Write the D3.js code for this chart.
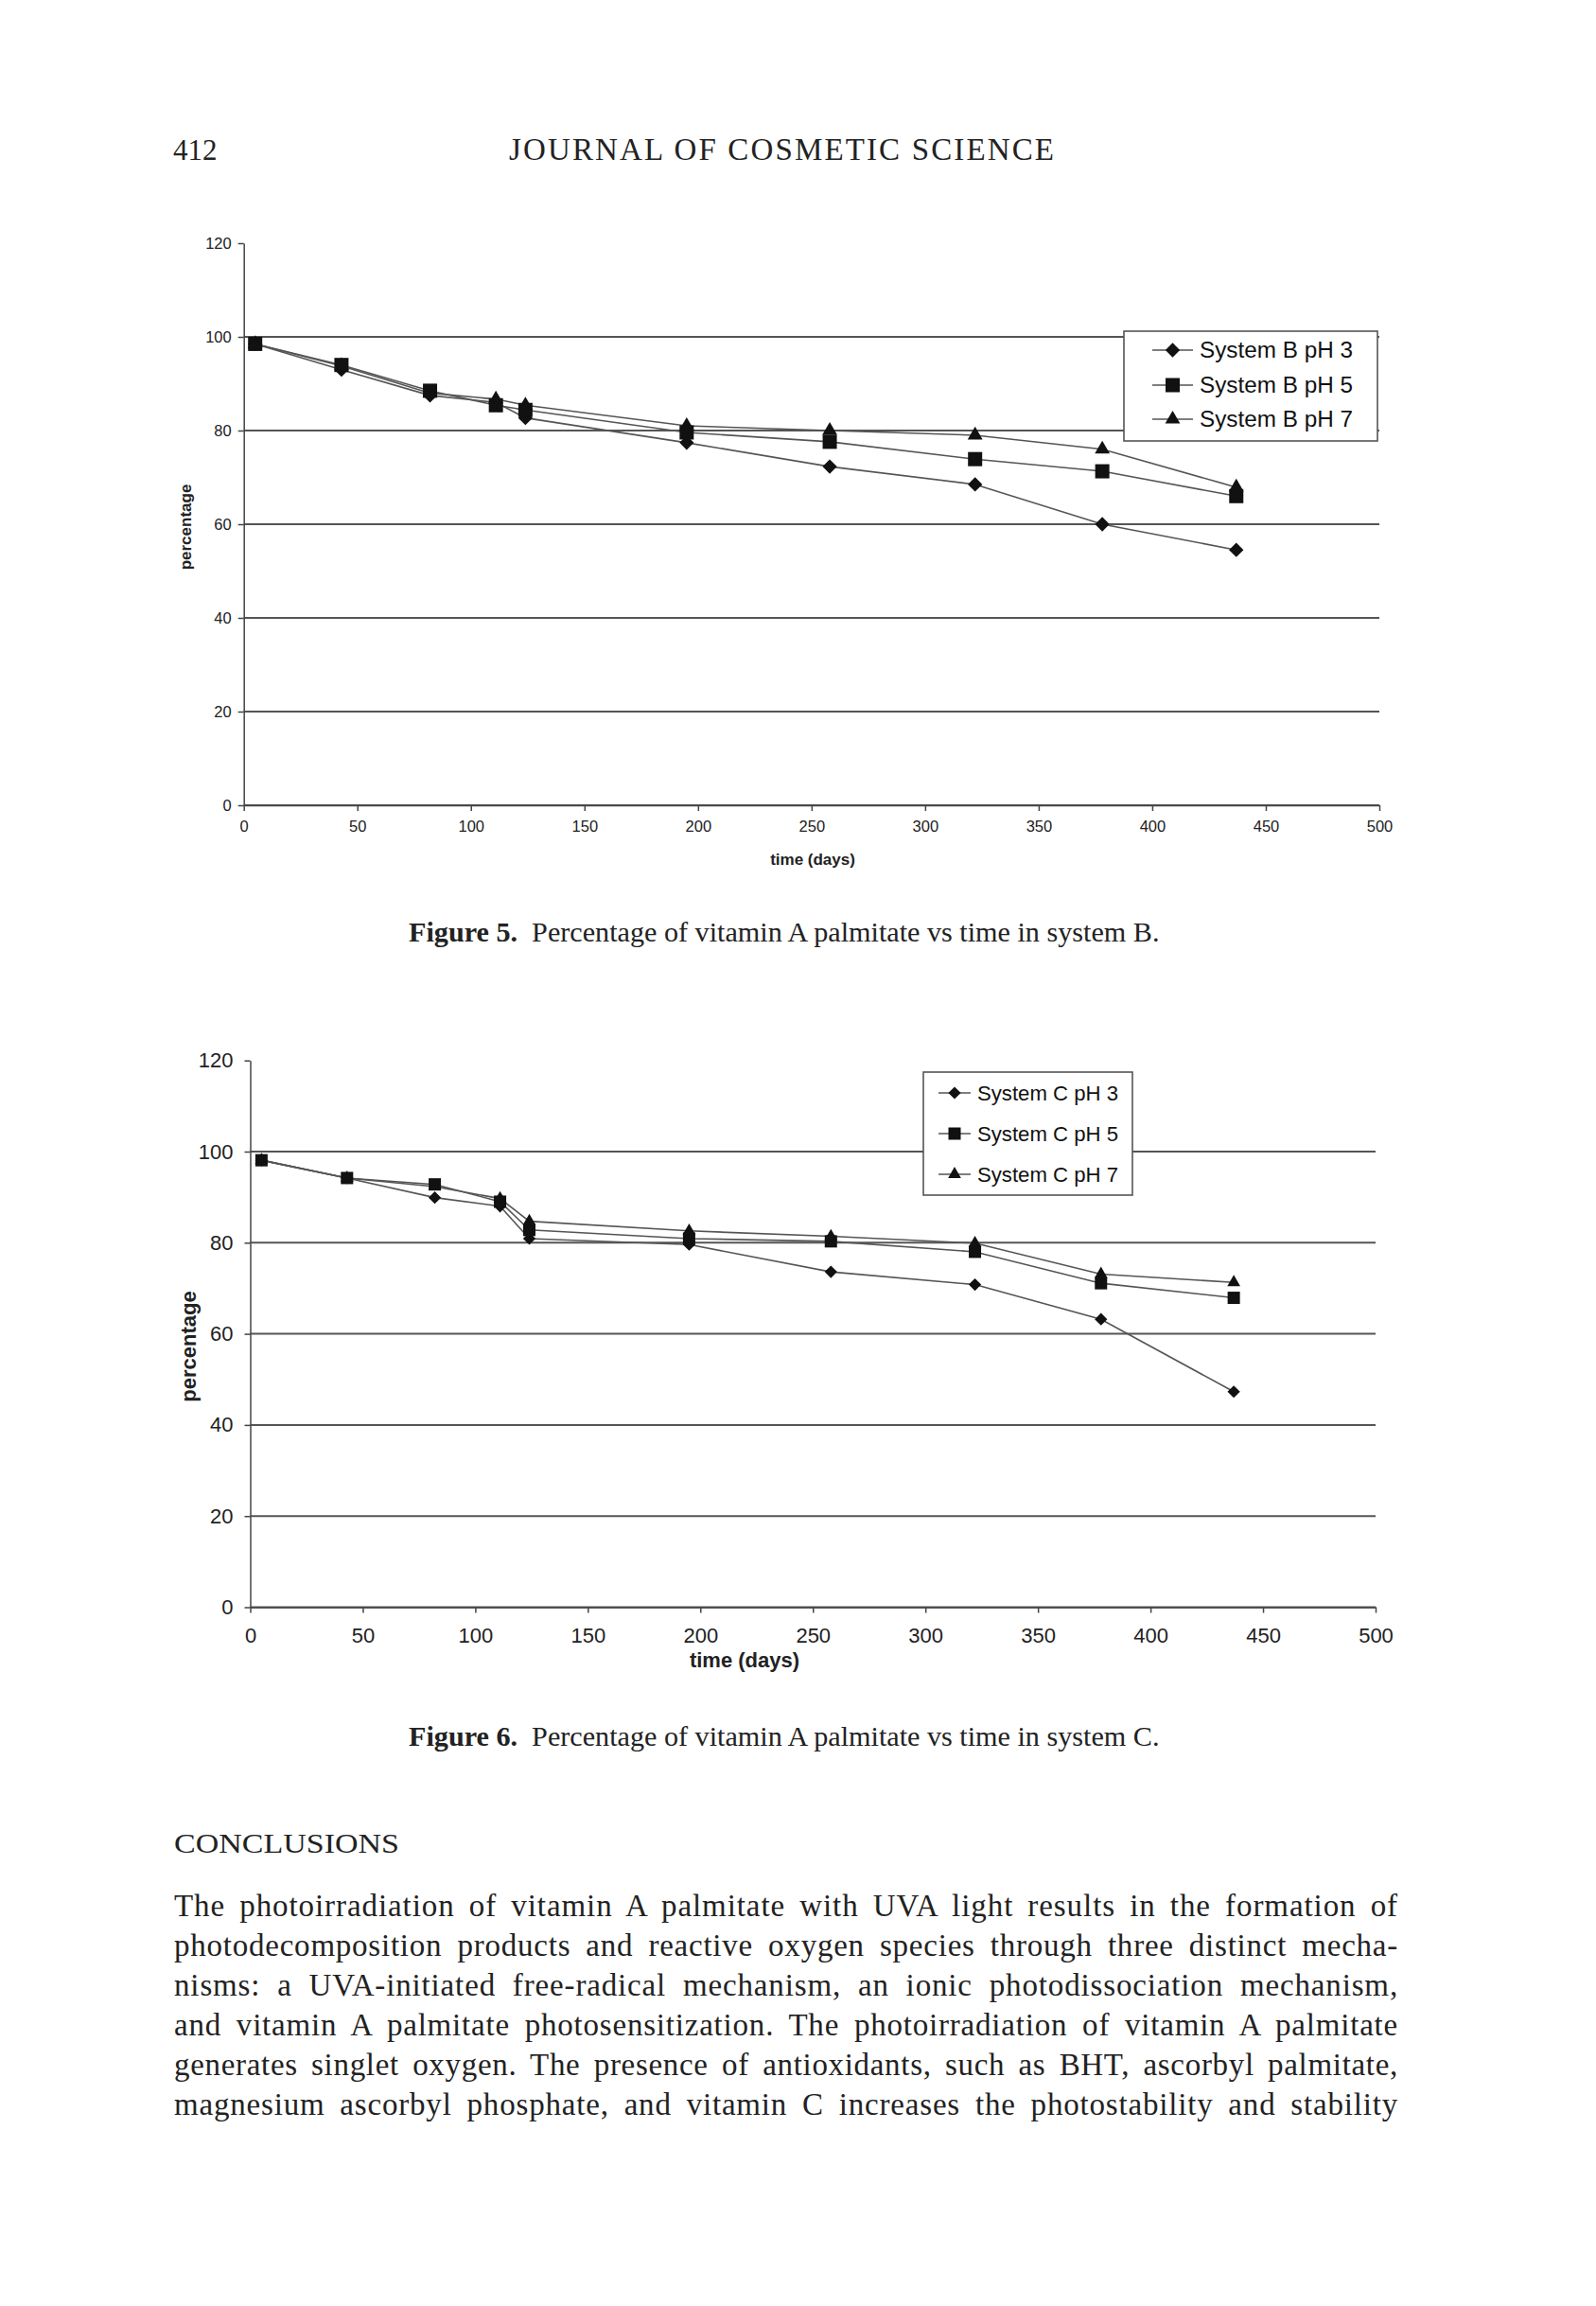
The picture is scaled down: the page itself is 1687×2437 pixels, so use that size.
<!DOCTYPE html>
<html>
<head>
<meta charset="utf-8">
<script src="https://cdn.jsdelivr.net/npm/d3@7"></script>
<style>
  body { margin: 0; background: #fff; }
</style>
</head>
<body>
<svg></svg>
<script>
// sampling days (same for both systems)
const days = [5, 43, 82, 111, 124, 195, 258, 322, 378, 437];

// Figure 5 - system B
const bPH3 = [98.5, 93.0, 87.5, 86.0, 82.7, 77.4, 72.3, 68.5, 60.0, 54.5];
const bPH5 = [98.5, 94.0, 88.5, 85.4, 84.4, 79.6, 77.6, 73.9, 71.3, 66.0];
const bPH7 = [98.5, 93.8, 88.0, 86.7, 85.4, 81.0, 80.0, 79.0, 76.0, 67.9];

// Figure 6 - system C
const cPH3 = [98.1, 94.2, 89.9, 88.0, 80.9, 79.6, 73.6, 70.8, 63.2, 47.3];
const cPH5 = [98.1, 94.2, 92.8, 89.0, 82.8, 80.9, 80.3, 78.0, 71.1, 67.9];
const cPH7 = [98.1, 94.2, 92.3, 89.7, 84.7, 82.6, 81.4, 79.9, 73.1, 71.3];

const labelsB = ["System B pH 3", "System B pH 5", "System B pH 7"];
const labelsC = ["System C pH 3", "System C pH 5", "System C pH 7"];
const markerKinds = ["diamond", "square", "triangle"];

const xTicks = [0, 50, 100, 150, 200, 250, 300, 350, 400, 450, 500];
const yTicks = [0, 20, 40, 60, 80, 100, 120];
const gridValues = [0, 20, 40, 60, 80, 100];

const paragraph = [
  "The photoirradiation of vitamin A palmitate with UVA light results in the formation of",
  "photodecomposition products and reactive oxygen species through three distinct mecha-",
  "nisms: a UVA-initiated free-radical mechanism, an ionic photodissociation mechanism,",
  "and vitamin A palmitate photosensitization. The photoirradiation of vitamin A palmitate",
  "generates singlet oxygen. The presence of antioxidants, such as BHT, ascorbyl palmitate,",
  "magnesium ascorbyl phosphate, and vitamin C increases the photostability and stability"
];

const width = 1687;
const height = 2437;
const sans = "'Liberation Sans', Arial, sans-serif";
const serif = "'Liberation Serif', 'Times New Roman', serif";

const svg = d3.select("svg")
  .attr("width", width)
  .attr("height", height);

svg.append("rect").attr("width", width).attr("height", height).attr("fill", "#fff");

// page header
svg.append("text")
  .attr("x", 183).attr("y", 169)
  .attr("font-family", serif).attr("font-size", 31).attr("fill", "#222")
  .text("412");

svg.append("text")
  .attr("x", 538).attr("y", 169)
  .attr("font-family", serif).attr("font-size", 33).attr("fill", "#222")
  .attr("textLength", 576).attr("lengthAdjust", "spacing")
  .text("JOURNAL OF COSMETIC SCIENCE");

function markerPath(kind, s) {
  if (kind === "square") return d3.symbol(d3.symbolSquare, s * s)();
  if (kind === "diamond") return d3.symbol(d3.symbolSquare, (s * 0.72) * (s * 0.72))();
  return d3.symbol(d3.symbolTriangle, s * s * 0.48)();
}

function drawMarker(g, kind, cx, cy, s) {
  g.append("path")
    .attr("d", markerPath(kind, s))
    .attr("transform", `translate(${cx},${cy})` + (kind === "diamond" ? " rotate(45)" : ""))
    .attr("fill", "#111");
}

function drawChart(opt) {
  const x = d3.scaleLinear().domain([0, 500]).range([opt.left, opt.right]);
  const y = d3.scaleLinear().domain([0, 120]).range([opt.bottom, opt.top]);
  const g = svg.append("g");

  // horizontal grid lines
  g.selectAll("line.grid")
    .data(gridValues)
    .enter()
    .append("line")
    .attr("class", "grid")
    .attr("x1", x(0)).attr("x2", x(500))
    .attr("y1", d => y(d)).attr("y2", d => y(d))
    .attr("stroke", "#555").attr("stroke-width", 2);

  // axes
  const yAxis = g.append("g")
    .attr("transform", `translate(${x(0)},0)`)
    .call(d3.axisLeft(y).tickValues(yTicks).tickSize(6).tickSizeOuter(0).tickPadding(opt.yPad));
  const xAxis = g.append("g")
    .attr("transform", `translate(0,${y(0)})`)
    .call(d3.axisBottom(x).tickValues(xTicks).tickSize(6).tickSizeOuter(0).tickPadding(opt.xPad));

  [yAxis, xAxis].forEach(a => {
    a.attr("font-family", sans).attr("font-size", opt.tickFont);
    a.selectAll("path, line").attr("stroke", "#444").attr("stroke-width", 1.5);
    a.selectAll("text").attr("fill", "#222");
  });

  // axis titles
  g.append("text")
    .attr("x", opt.xTitle[0]).attr("y", opt.xTitle[1])
    .attr("text-anchor", "middle")
    .attr("font-family", sans).attr("font-weight", "bold").attr("font-size", opt.titleFont)
    .attr("fill", "#222")
    .text("time (days)");

  g.append("text")
    .attr("transform", `translate(${opt.yTitle[0]},${opt.yTitle[1]}) rotate(-90)`)
    .attr("text-anchor", "middle").attr("dy", "0.35em")
    .attr("font-family", sans).attr("font-weight", "bold").attr("font-size", opt.titleFont)
    .attr("fill", "#222")
    .text("percentage");

  // series
  const line = d3.line().x((d, i) => x(days[i])).y(d => y(d));
  opt.series.forEach(values => {
    g.append("path")
      .datum(values)
      .attr("d", line)
      .attr("fill", "none")
      .attr("stroke", "#555")
      .attr("stroke-width", 1.6);
  });
  opt.series.forEach((values, k) => {
    values.forEach((v, i) => drawMarker(g, markerKinds[k], x(days[i]), y(v), opt.marker));
  });

  // legend
  const L = opt.legend;
  g.append("rect")
    .attr("x", L.x).attr("y", L.y).attr("width", L.w).attr("height", L.h)
    .attr("fill", "#fff").attr("stroke", "#555").attr("stroke-width", 1.6);
  opt.labels.forEach((label, k) => {
    const ly = L.rows[k];
    g.append("line")
      .attr("x1", L.lineX[0]).attr("x2", L.lineX[1])
      .attr("y1", ly).attr("y2", ly)
      .attr("stroke", "#555").attr("stroke-width", 1.6);
    drawMarker(g, markerKinds[k], (L.lineX[0] + L.lineX[1]) / 2, ly, opt.marker);
    g.append("text")
      .attr("x", L.textX).attr("y", ly).attr("dy", "0.35em")
      .attr("font-family", sans).attr("font-size", L.font).attr("fill", "#111")
      .attr("textLength", L.textW).attr("lengthAdjust", "spacingAndGlyphs")
      .text(label);
  });
}

drawChart({
  left: 257.7, right: 1458, top: 257, bottom: 851,
  tickFont: 16.5, titleFont: 17, yPad: 7, xPad: 10,
  xTitle: [859, 914], yTitle: [196, 557],
  marker: 15,
  series: [bPH3, bPH5, bPH7],
  labels: labelsB,
  legend: { x: 1188, y: 350, w: 268, h: 116, rows: [370, 407, 443], lineX: [1218, 1261], textX: 1268, font: 23, textW: 162 }
});

drawChart({
  left: 264.5, right: 1454, top: 1120.7, bottom: 1698.5,
  tickFont: 22, titleFont: 22, yPad: 12, xPad: 16,
  xTitle: [787, 1762], yTitle: [199, 1423],
  marker: 13,
  series: [cPH3, cPH5, cPH7],
  labels: labelsC,
  legend: { x: 976, y: 1133, w: 221, h: 130, rows: [1155, 1198, 1241], lineX: [992, 1026], textX: 1033, font: 22, textW: 149 }
});

// captions
function caption(num, rest, yBase) {
  const t = svg.append("text")
    .attr("x", 432).attr("y", yBase)
    .attr("font-family", serif).attr("font-size", 27).attr("fill", "#222");
  t.append("tspan").attr("font-weight", "bold").text(num);
  t.append("tspan").attr("xml:space", "preserve").text("\u00a0 " + rest);
  const natural = t.node().getComputedTextLength();
  t.attr("font-size", 27 * 794 / natural);
}
caption("Figure 5.", "Percentage of vitamin A palmitate vs time in system B.", 995);
caption("Figure 6.", "Percentage of vitamin A palmitate vs time in system C.", 1845);

// section heading
svg.append("text")
  .attr("x", 184).attr("y", 1958)
  .attr("font-family", serif).attr("font-size", 30).attr("fill", "#222")
  .attr("textLength", 238).attr("lengthAdjust", "spacingAndGlyphs")
  .text("CONCLUSIONS");

// justified paragraph: spread the slack over letters and words
const lineStart = 184, lineEnd = 1478;
paragraph.forEach((txt, i) => {
  const t = svg.append("text")
    .attr("x", lineStart).attr("y", 2025 + i * 42)
    .attr("font-family", serif).attr("font-size", 33).attr("fill", "#222")
    .text(txt);
  const natural = t.node().getComputedTextLength();
  const slack = lineEnd - lineStart - natural;
  const spaces = (txt.match(/ /g) || []).length;
  const ls = Math.max(0, slack * 0.5 / (txt.length - 1));
  t.attr("letter-spacing", ls);
  const after = t.node().getComputedTextLength();
  t.attr("word-spacing", (lineEnd - lineStart - after) / spaces);
});
</script>
</body>
</html>
